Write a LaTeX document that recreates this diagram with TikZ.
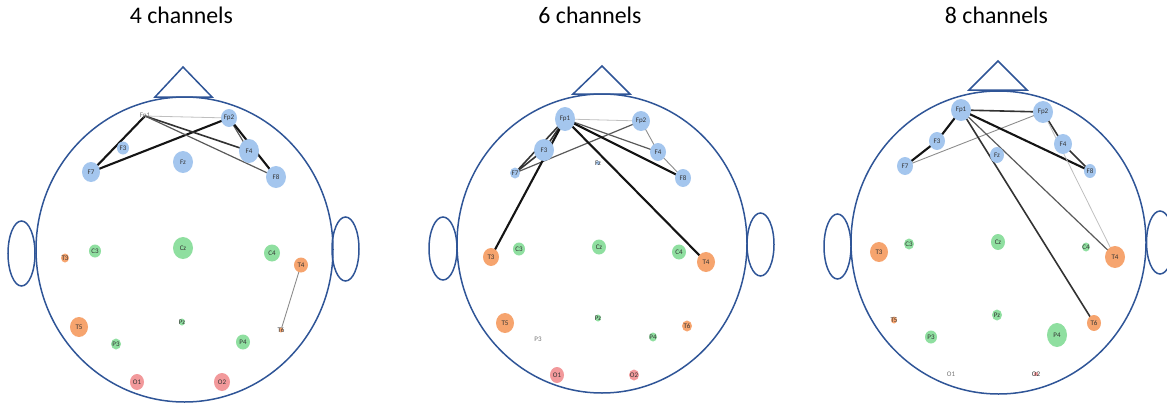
\documentclass[tikz,border=0pt]{standalone}
\usepackage{fontspec}
\setmainfont{Carlito}
\usetikzlibrary{shapes.geometric,backgrounds}
\definecolor{eblue}{HTML}{A4C6EE}
\definecolor{egreen}{HTML}{8FDFA0}
\definecolor{eorange}{HTML}{F6A46E}
\definecolor{ered}{HTML}{F2999B}
\definecolor{headblue}{HTML}{2F5597}
\definecolor{lbltext}{HTML}{333333}
\tikzset{
  outline/.style={draw=headblue, line width=1.5pt},
  elec/.style={ellipse, draw=none, inner sep=0pt, outer sep=0pt},
  lbl/.style={font=\fontsize{7}{8}\selectfont, inner sep=0pt},
  title/.style={font=\fontsize{23.8}{28}\selectfont, text=black, anchor=base},
  faint/.style={draw=black!25, line width=0.8pt},
  light/.style={draw=black!45, line width=0.9pt},
  mid/.style={draw=black!65, line width=1.2pt},
  strong/.style={draw=black!80, line width=1.6pt},
  heavy/.style={draw=black!92, line width=2.1pt},
}
\begin{document}
\begin{tikzpicture}[x=1pt,y=-1pt]
\useasboundingbox (0,0) rectangle (1167,404);
\clip (0,0) rectangle (1167,404);

% titles
\node[title] (t1) at (181.5,24) {4 channels};
\node[title] (t2) at (590,24) {6 channels};
\node[title] (t3) at (996.5,24) {8 channels};

% head outlines: skull, nose, ears
\draw[outline] (184.5,249.5) ellipse [x radius=148.5, y radius=152.5];
\draw[outline] (155,97) -- (183,67) -- (212,97) -- cycle;
\draw[outline] (21.5,253.5) ellipse [x radius=13.5, y radius=32.5];
\draw[outline] (345.5,249) ellipse [x radius=13.5, y radius=32];

\draw[outline] (602,243.5) ellipse [x radius=145, y radius=149.5];
\draw[outline] (573,94) -- (602,66) -- (630,94) -- cycle;
\draw[outline] (443,248.5) ellipse [x radius=14, y radius=31.5];
\draw[outline] (760.5,244.5) ellipse [x radius=13.5, y radius=31.5];

\draw[outline] (998.5,242.5) ellipse [x radius=147.5, y radius=151.5];
\draw[outline] (969,90) -- (998,61) -- (1027,90) -- cycle;
\draw[outline] (837.5,246.5) ellipse [x radius=13.5, y radius=32.5];
\draw[outline] (1160,242.5) ellipse [x radius=13.5, y radius=31.5];

% electrodes: name / x / y / width / height / fill / label colour
\foreach \n/\x/\y/\w/\h/\f/\t in {
  Fp1/145/116/1/1/none/black!55,
  Fp2/229/118/16/18/eblue/lbltext,
  F3/123/148/12/13/eblue/lbltext,
  F4/249/151/20/24/eblue/lbltext,
  F7/91/172/18/20/eblue/lbltext,
  Fz/183/162/20/22/eblue/lbltext,
  F8/276/177/20/22/eblue/lbltext,
  C3/95/251/12/13/egreen/lbltext,
  T3/65/258/8/9/eorange/lbltext,
  Cz/183/248/20/22/egreen/lbltext,
  C4/272/253/16/17/egreen/lbltext,
  T4/301/265/14/15/eorange/lbltext,
  T5/79/327/18/20/eorange/lbltext,
  Pz/182/322/6/7/egreen/lbltext,
  P3/116/344/10/11/egreen/lbltext,
  P4/243/342/14/15/egreen/lbltext,
  T6/281/330/4/5/eorange/lbltext,
  O1/137/382/14/16/ered/lbltext,
  O2/222/382/16/18/ered/lbltext}
  \node[elec, fill=\f, minimum width=\w, minimum height=\h,
        label={[lbl, text=\t]center:\n}] (a-\n) at (\x,\y) {};

\foreach \n/\x/\y/\w/\h/\f/\t in {
  Fp1/565/119/20/24/eblue/lbltext,
  Fp2/641/121/18/20/eblue/lbltext,
  F3/544/150/20/22/eblue/lbltext,
  F4/658/152/16/18/eblue/lbltext,
  F7/515/173/10/11/eblue/lbltext,
  Fz/598/163/4/4/eblue/lbltext,
  F8/683/178/16/18/eblue/lbltext,
  T3/491/257/16/18/eorange/lbltext,
  C3/519/249/12/13/egreen/lbltext,
  Cz/599/247/14/15/egreen/lbltext,
  C4/679/252/14/15/egreen/lbltext,
  T4/706/262/18/20/eorange/lbltext,
  T5/505/323/18/20/eorange/lbltext,
  Pz/598/318/6/7/egreen/lbltext,
  T6/687/326/10/11/eorange/lbltext,
  P3/538/339/1/1/none/black!55,
  P4/653/337/8/9/egreen/lbltext,
  O1/557/375/14/16/ered/lbltext,
  O2/634/375/10/11/ered/lbltext}
  \node[elec, fill=\f, minimum width=\w, minimum height=\h,
        label={[lbl, text=\t]center:\n}] (b-\n) at (\x,\y) {};

\foreach \n/\x/\y/\w/\h/\f/\t in {
  Fp1/961/110/20/22/eblue/lbltext,
  Fp2/1043/112/20/22/eblue/lbltext,
  F3/937/141/16/18/eblue/lbltext,
  F4/1063/144/18/20/eblue/lbltext,
  F7/905/166/16/18/eblue/lbltext,
  Fz/997/155/14/16/eblue/lbltext,
  F8/1090/171/12/14/eblue/lbltext,
  T3/879/252/18/20/eorange/lbltext,
  C3/909/244/10/11/egreen/lbltext,
  Cz/998/242/14/16/egreen/lbltext,
  C4/1086/247/8/9/egreen/lbltext,
  T4/1115/257/20/22/eorange/lbltext,
  T5/894/320/6/7/eorange/lbltext,
  Pz/997/315/10/11/egreen/lbltext,
  T6/1094/323/14/16/eorange/lbltext,
  P3/931/337/12/13/egreen/lbltext,
  P4/1057/335/20/24/egreen/lbltext,
  O1/951/374/1/1/none/black!55,
  O2/1036/374/4/4/ered/lbltext}
  \node[elec, fill=\f, minimum width=\w, minimum height=\h,
        label={[lbl, text=\t]center:\n}] (c-\n) at (\x,\y) {};

% connections, drawn centre to centre behind the electrodes
\begin{pgfonlayer}{background}
  % 4 channels
  \draw[faint]  (a-Fp1.center) -- (a-Fp2.center);
  \draw[heavy]  (a-Fp1.center) -- (a-F7.center);
  \draw[heavy]  (a-F7.center)  -- (a-Fp2.center);
  \draw[strong] (a-Fp1.center) -- (a-F4.center);
  \draw[mid]    (a-Fp1.center) -- (a-F8.center);
  \draw[mid]    (a-Fp2.center) -- (a-F4.center);
  \draw[heavy]  (a-Fp2.center) -- (a-F8.center);
  \draw[light]  (a-T4.center)  -- (a-T6.center);
  % 6 channels
  \draw[faint]  (b-Fp1.center) -- (b-Fp2.center);
  \draw[strong] (b-Fp1.center) -- (b-F3.center);
  \draw[strong] (b-Fp1.center) -- (b-F7.center);
  \draw[strong] (b-F3.center)  -- (b-F7.center);
  \draw[mid]    (b-F7.center)  -- (b-Fp2.center);
  \draw[heavy]  (b-Fp1.center) -- (b-T3.center);
  \draw[mid]    (b-Fp1.center) -- (b-F4.center);
  \draw[heavy]  (b-Fp1.center) -- (b-F8.center);
  \draw[heavy]  (b-Fp1.center) -- (b-T4.center);
  \draw[light]  (b-Fp2.center) -- (b-F4.center);
  \draw[light]  (b-F4.center)  -- (b-F8.center);
  % 8 channels
  \draw[strong] (c-Fp1.center) -- (c-Fp2.center);
  \draw[heavy]  (c-Fp1.center) -- (c-F3.center);
  \draw[heavy]  (c-F3.center)  -- (c-F7.center);
  \draw[light]  (c-F7.center)  -- (c-Fp2.center);
  \draw[heavy]  (c-Fp1.center) -- (c-F8.center);
  \draw[strong] (c-Fp1.center) -- (c-T6.center);
  \draw[mid]    (c-Fp1.center) -- (c-T4.center);
  \draw[strong] (c-Fp2.center) -- (c-F4.center);
  \draw[strong] (c-F4.center)  -- (c-F8.center);
  \draw[faint]  (c-Fp2.center) -- (c-T4.center);
\end{pgfonlayer}
\end{tikzpicture}
\end{document}
